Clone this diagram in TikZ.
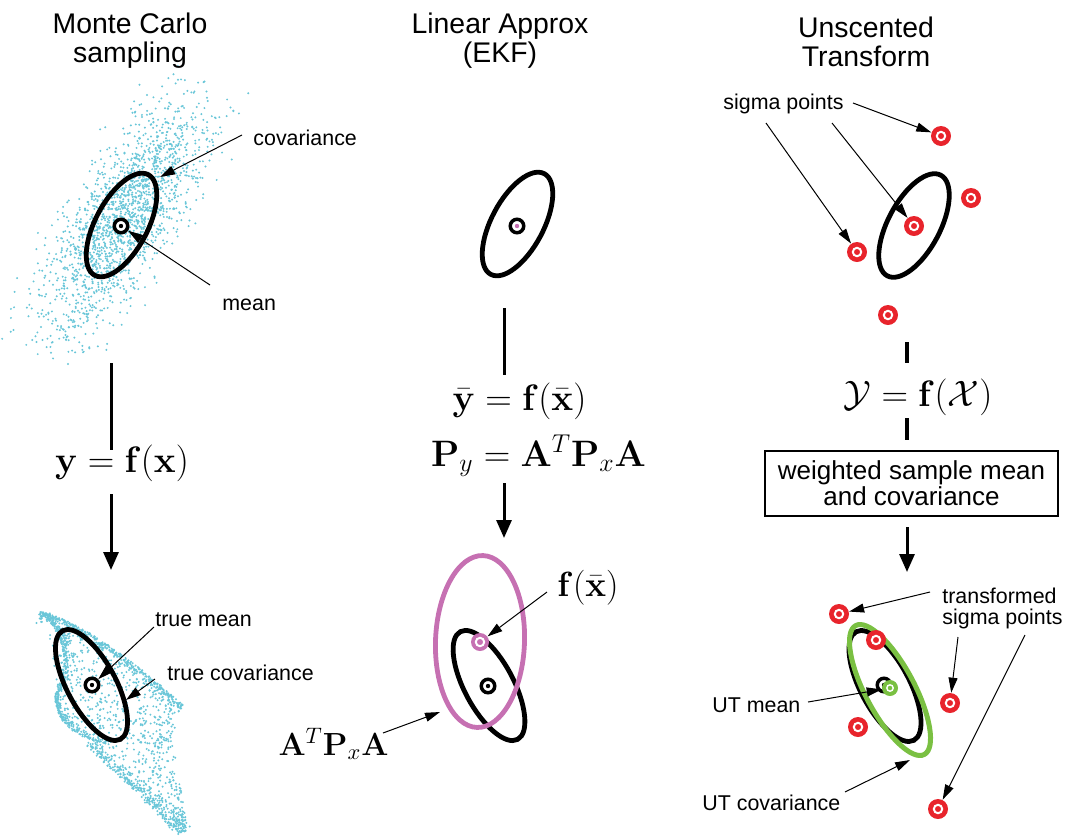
\RequirePackage{fix-cm}
\documentclass[tikz,border=0pt]{standalone}
\usepackage[no-math]{fontspec}
\setmainfont{Liberation Sans}
\usetikzlibrary{arrows.meta,shapes.geometric}
\definecolor{dotc}{RGB}{105,198,216}
\definecolor{sigred}{RGB}{232,36,44}
\definecolor{pinkc}{RGB}{198,112,178}
\definecolor{greenc}{RGB}{122,192,66}
\begin{document}
\begin{tikzpicture}[x=0.5pt,y=0.5pt,
  title/.style={align=center,font=\fontsize{14.2}{14.5}\selectfont,inner sep=0pt},
  lab/.style={font=\fontsize{10.7}{10.5}\selectfont,inner sep=0pt},
  eq/.style={font=\fontsize{18.4}{22}\selectfont,inner sep=0pt},
  ell/.style={draw=black,ellipse,line width=2.4pt,inner sep=0pt},
  meanmark/.style={circle,draw=black,line width=1.75pt,fill=white,minimum size=6.75pt,inner sep=0pt,
    path picture={\fill[#1] (path picture bounding box.center) circle (1.1pt);}},
  meanmark/.default=black,
  sigmark/.style={circle,fill=#1,minimum size=10pt,inner sep=0pt,
    path picture={\draw[white,line width=1pt] (path picture bounding box.center) circle (2.1pt);}},
  sigmark/.default=sigred,
  vline/.style={line width=1.5pt},
  bigarrow/.style={line width=1.5pt,-{Triangle[length=9pt,width=7.5pt]}},
  ann/.style={line width=0.5pt,-{Triangle[length=7.5pt,width=4.5pt]}}]
\useasboundingbox (0,0) rectangle (1065,-836);

% ---------------- Monte Carlo: input cloud
\pgfmathsetseed{4242}
\foreach \i in {1,...,1900}{%
  \pgfmathsetmacro\ua{(rand+rand+rand)*64}%
  \pgfmathsetmacro\va{(rand+rand+rand)*24}%
  \fill[dotc] ({124+0.53*\ua-0.848*\va},{-218+0.848*\ua+0.53*\va}) circle (0.55pt);
}
% ---------------- Monte Carlo: transformed cloud
\foreach \i in {1,...,450}{%
  \pgfmathsetmacro\ta{0.002+0.996*rnd}%
  \pgfmathsetmacro\da{abs(rand+rand+rand)*4}%
  \fill[dotc] ({40+143*\ta-0.4*\da},{-612-93*\ta^1.4-\da}) circle (0.55pt);
}
\foreach \i in {1,...,250}{%
  \pgfmathsetmacro\ta{rnd}%
  \pgfmathsetmacro\da{abs(rand+rand+rand)*3.5}%
  \fill[dotc] ({(1-\ta)*(1-\ta)*40+2*\ta*(1-\ta)*78+\ta*\ta*55+\da},{-((1-\ta)*(1-\ta)*612+2*\ta*(1-\ta)*645+\ta*\ta*695)}) circle (0.55pt);
}
\foreach \i in {1,...,200}{%
  \pgfmathsetmacro\ta{rnd}%
  \pgfmathsetmacro\da{abs(rand+rand+rand)*3.5}%
  \fill[dotc] ({(1-\ta)*(1-\ta)*55+2*\ta*(1-\ta)*55+\ta*\ta*110+0.5*\da},{-((1-\ta)*(1-\ta)*695+2*\ta*(1-\ta)*735+\ta*\ta*745)+\da}) circle (0.55pt);
}
\foreach \i in {1,...,250}{%
  \pgfmathsetmacro\ta{rnd}%
  \pgfmathsetmacro\da{abs(rand+rand+rand)*7}%
  \fill[dotc] ({85+97*\ta+0.68*\da},{-(745+90*\ta)+0.73*\da}) circle (0.55pt);
}
\foreach \i in {1,...,450}{%
  \pgfmathsetmacro\sa{rnd}%
  \pgfmathsetmacro\ta{rnd}%
  \fill[dotc] ({(1-\sa)*(1-\ta)*45+\sa*(1-\ta)*182+\sa*\ta*168+(1-\sa)*\ta*62},{-((1-\sa)*(1-\ta)*616+\sa*(1-\ta)*707+\sa*\ta*752+(1-\sa)*\ta*718)}) circle (0.55pt);
}
\foreach \i in {1,...,300}{%
  \pgfmathsetmacro\sa{rnd}%
  \pgfmathsetmacro\ta{rnd}%
  \fill[dotc] ({(1-\sa)*(1-\ta)*88+\sa*(1-\ta)*172+\sa*\ta*188+(1-\sa)*\ta*178},{-((1-\sa)*(1-\ta)*745+\sa*(1-\ta)*738+\sa*\ta*830+(1-\sa)*\ta*836)}) circle (0.55pt);
}

% ---------------- titles
\node[title,anchor=north] (t1) at (130,-12.7) {Monte Carlo\\sampling};
\node[title,anchor=north] (t2) at (500,-12.7) {Linear Approx\\(EKF)};
\node[title,anchor=north] (t3) at (866,-16.7) {Unscented\\Transform};

% ---------------- left column
\node[ell,minimum width=57pt,minimum height=26pt,rotate=62] (eL) at (121.5,-225) {};
\node[meanmark] (mL) at (121,-226) {};
\node[lab,anchor=base west] (cov) at (253,-145) {covariance};
\node[lab,anchor=base west] (mean) at (222,-310) {mean};
\coordinate (covS) at (242,-135); \coordinate (covT) at (160,-177);
\coordinate (meanS) at (210,-285);
\draw[ann] (covS) -- (covT);
\draw[ann] (meanS) -- (mL);

\node[eq] (eqL) at (122,-463.5) {$\mathbf{y}=\mathbf{f}(\mathbf{x})$};
\coordinate (Lv1) at (111,-363); \coordinate (Lv2) at (111,-450);
\coordinate (La1) at (111,-494); \coordinate (La2) at (111,-570);
\draw[vline] (Lv1) -- (Lv2);
\draw[bigarrow] (La1) -- (La2);

\node[ell,minimum width=61.5pt,minimum height=24.4pt,rotate=118] (eLB) at (91.5,-685) {};
\node[meanmark] (mB) at (92,-685) {};
\node[lab,anchor=base west] (tmean) at (155,-626) {true mean};
\node[lab,anchor=base west] (tcov) at (167,-680) {true covariance};
\coordinate (tmS) at (154,-627);
\coordinate (tcS) at (155,-679); \coordinate (tcT) at (126,-700);
\draw[ann] (tmS) -- (mB);
\draw[ann] (tcS) -- (tcT);

% ---------------- middle column
\node[ell,minimum width=57pt,minimum height=26pt,rotate=62] (eM) at (517.5,-224) {};
\node[meanmark=pinkc] (mM) at (517,-226) {};
\coordinate (Mv1) at (504,-308); \coordinate (Mv2) at (504,-375);
\draw[vline] (Mv1) -- (Mv2);
\node[eq] (eqM1) at (519.5,-401) {$\bar{\mathbf{y}}=\mathbf{f}(\bar{\mathbf{x}})$};
\node[eq] (eqM2) at (538.5,-456) {$\mathbf{P}_y=\mathbf{A}^T\mathbf{P}_x\mathbf{A}$};
\coordinate (Ma1) at (504,-483); \coordinate (Ma2) at (504,-538);
\draw[bigarrow] (Ma1) -- (Ma2);

\node[ell,minimum width=61pt,minimum height=24.5pt,rotate=118] (eMB) at (489,-685.5) {};
\node[ell,draw=pinkc,minimum width=86pt,minimum height=44.5pt,rotate=88] (eP) at (480,-641.5) {};
\node[meanmark] (mMB) at (488,-686) {};
\node[sigmark=pinkc,minimum size=9pt] (pm) at (480,-642) {};
\node[font=\fontsize{17.5}{20}\selectfont,inner sep=0pt] (fx) at (588,-587.5) {$\mathbf{f}(\bar{\mathbf{x}})$};
\node[font=\fontsize{16}{18}\selectfont,inner sep=0pt] (apa) at (333.5,-744) {$\mathbf{A}^T\mathbf{P}_x\mathbf{A}$};
\coordinate (fxS) at (547,-592);
\coordinate (apaS) at (383,-733); \coordinate (apaT) at (440,-712);
\draw[ann] (fxS) -- (pm);
\draw[ann] (apaS) -- (apaT);

% ---------------- right column
\node[ell,minimum width=57pt,minimum height=26pt,rotate=62] (eR) at (914,-225.5) {};
\node[sigmark] (s0) at (914,-226) {};
\node[sigmark] (s1) at (941,-136) {};
\node[sigmark] (s2) at (971,-198) {};
\node[sigmark] (s3) at (857,-252) {};
\node[sigmark] (s4) at (888,-315) {};
\node[lab,anchor=base west] (sig) at (723,-109) {sigma points};
\coordinate (sgS1) at (853,-103);
\coordinate (sgS2) at (832,-123);
\coordinate (sgS3) at (766,-123);
\draw[ann] (sgS1) -- (s1);
\draw[ann] (sgS2) -- (s0);
\draw[ann] (sgS3) -- (s3);

\coordinate (Rv1) at (907,-342); \coordinate (Rv2) at (907,-363);
\coordinate (Rv3) at (907,-418); \coordinate (Rv4) at (907,-440);
\draw[vline,line width=1.75pt] (Rv1) -- (Rv2);
\draw[vline,line width=1.75pt] (Rv3) -- (Rv4);
\node[eq] (eqR) at (918,-397.5) {$\mathcal{Y}=\mathbf{f}(\mathcal{X})$};
\node[draw,line width=0.75pt,minimum width=146.5pt,minimum height=32.5pt,align=center,inner sep=0pt,
  font=\fontsize{13}{12}\selectfont] (box) at (911.5,-483.5) {weighted sample mean\\and covariance};
\coordinate (Ra1) at (907,-527); \coordinate (Ra2) at (907,-572);
\draw[bigarrow] (Ra1) -- (Ra2);

\node[ell,minimum width=61.5pt,minimum height=24.4pt,rotate=118] (eRB) at (885,-686) {};
\node[ell,draw=greenc,line width=2.5pt,minimum width=73pt,minimum height=24.5pt,rotate=118] (eG) at (890,-690) {};
\node[meanmark] (mRB) at (884,-685) {};
\node[circle,fill=greenc,minimum size=8pt,inner sep=0pt,
  path picture={\draw[white,line width=0.7pt] (path picture bounding box.center) circle (1.6pt);}] (gm) at (890,-688) {};
\node[sigmark] (r1) at (839,-614) {};
\node[sigmark] (r2) at (876,-640) {};
\node[sigmark] (r3) at (950,-703) {};
\node[sigmark] (r4) at (858,-727) {};
\node[sigmark] (r5) at (938,-809) {};
\node[lab,anchor=north west,align=left] (tsig) at (942,-588) {transformed\\sigma points};
\node[lab,anchor=base west] (utm) at (712,-712.7) {UT mean};
\node[lab,anchor=base west] (utc) at (702,-810) {UT covariance};
\coordinate (trS1) at (930,-592);
\coordinate (trS2) at (958,-637);
\coordinate (trS3) at (1025,-635);
\coordinate (utmS) at (808,-702);
\coordinate (utcS) at (845,-792); \coordinate (utcT) at (910,-760);
\draw[ann] (trS1) -- (r1);
\draw[ann] (trS2) -- (r3);
\draw[ann] (trS3) -- (r5);
\draw[ann] (utmS) -- (gm);
\draw[ann] (utcS) -- (utcT);
\end{tikzpicture}
\end{document}
